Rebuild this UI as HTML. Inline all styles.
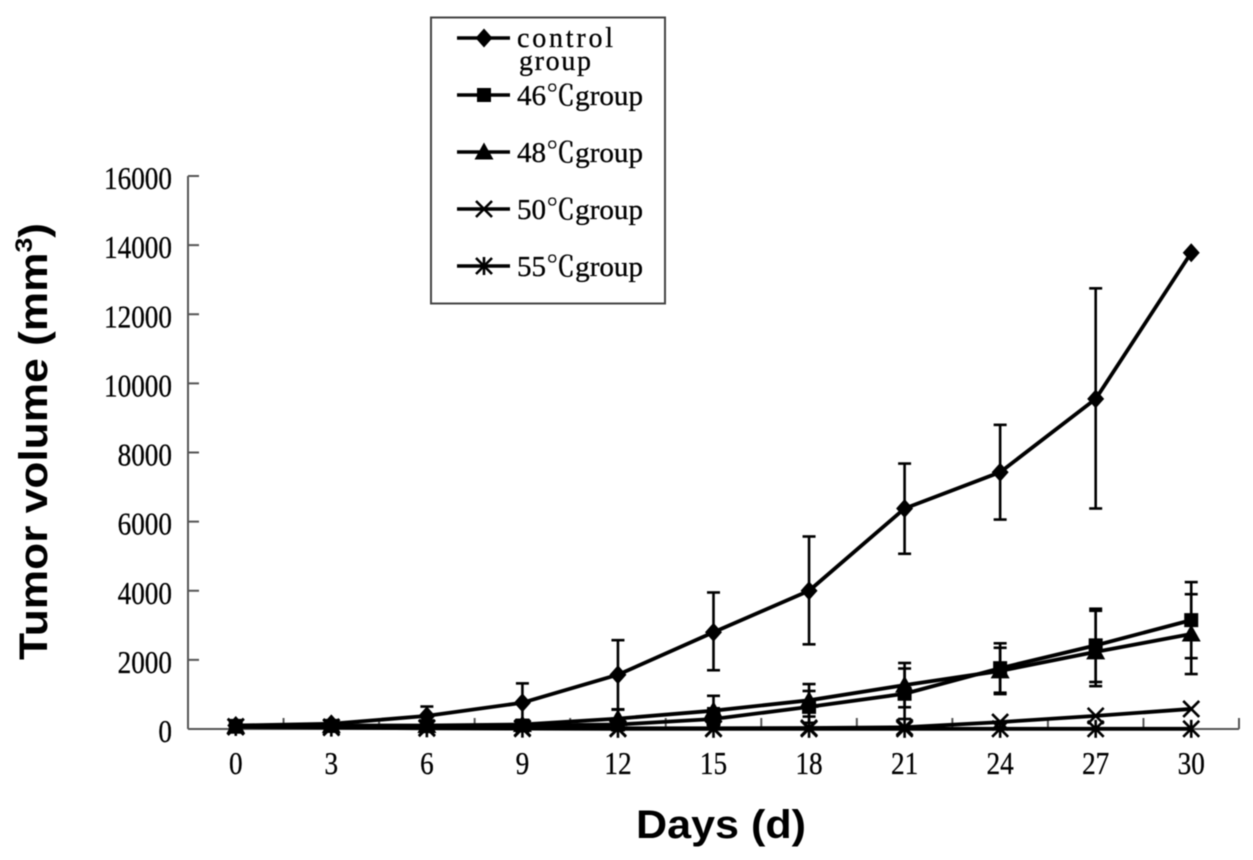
<!DOCTYPE html>
<html lang="en">
<head>
<meta charset="utf-8">
<title>Tumor volume chart</title>
<style>
html,body{margin:0;padding:0;background:#fff;}
svg{display:block;filter:blur(.5px);}
.tick{font-family:"Liberation Serif","Noto Serif CJK SC",serif;font-size:32px;fill:#000;stroke:#000;stroke-width:.3px;}
.legend{font-family:"Liberation Serif","Noto Serif CJK SC",serif;font-size:28px;fill:#000;stroke:#000;stroke-width:.3px;}
.title{font-family:"Liberation Sans",sans-serif;font-size:40px;font-weight:bold;fill:#000;}
</style>
</head>
<body>
<svg id="chart" xmlns="http://www.w3.org/2000/svg" width="1253" height="860" viewBox="0 0 1253 860">
<rect width="1253" height="860" fill="#fff"/>
<g id="axes"></g>
<g id="series"></g>
<text class="title" x="721" y="838" text-anchor="middle" textLength="170" lengthAdjust="spacingAndGlyphs">Days (d)</text>
<text class="title" transform="translate(47,660) rotate(-90)" textLength="437" lengthAdjust="spacingAndGlyphs">Tumor volume (mm<tspan font-size="24" dy="-15">3</tspan><tspan dy="15">)</tspan></text>
<g>
<rect x="431" y="17.5" width="234" height="286" fill="#fff" stroke="#444" stroke-width="2"/>
<text class="legend" x="517" y="47" textLength="96" lengthAdjust="spacing">control</text>
<text class="legend" x="519" y="70" textLength="72" lengthAdjust="spacing">group</text>
<text class="legend" x="517" y="105" textLength="126" lengthAdjust="spacingAndGlyphs">46℃group</text>
<text class="legend" x="517" y="162" textLength="126" lengthAdjust="spacingAndGlyphs">48℃group</text>
<text class="legend" x="517" y="219" textLength="126" lengthAdjust="spacingAndGlyphs">50℃group</text>
<text class="legend" x="517" y="276" textLength="126" lengthAdjust="spacingAndGlyphs">55℃group</text>
<g id="legend-keys"></g>
</g>
</svg>
<script>
const days = [0, 3, 6, 9, 12, 15, 18, 21, 24, 27, 30];
const yTicks = [0, 2000, 4000, 6000, 8000, 10000, 12000, 14000, 16000];

const controlValues = [100, 150, 380, 760, 1570, 2800, 4000, 6380, 7430, 9550, 13780];
const controlUpper = [null, null, 650, 1320, 2570, 3950, 5570, 7680, 8800, 12750, null];
const controlLower = [null, null, 110, 200, 570, 1700, 2450, 5070, 6060, 6380, null];

const group46Values = [90, 90, 80, 100, 130, 290, 640, 1020, 1760, 2420, 3150];
const group46Upper = [null, null, null, null, 300, 600, 1100, 1750, 2480, 3480, 4250];
const group46Lower = [null, null, null, null, null, 60, 180, 290, 1050, 1360, 2050];

const group48Values = [80, 100, 100, 130, 300, 530, 830, 1270, 1680, 2230, 2750];
const group48Upper = [null, null, null, null, 560, 960, 1300, 1910, 2350, 3420, 3900];
const group48Lower = [null, null, null, null, 40, 100, 360, 630, 1010, 1240, 1590];

const group50Values = [70, 60, 40, 30, 20, 20, 30, 50, 200, 380, 580];
const group55Values = [60, 40, 20, 10, 5, 5, 5, 5, 5, 5, 5];

const NS = 'http://www.w3.org/2000/svg';
const plotLeft = 188, plotRight = 1239, plotBase = 729, plotTop = 176, yMax = 16000;
const digitWidth = 13.6;
function xPos(i) { return plotLeft + (plotRight - plotLeft) * (i + 0.5) / days.length; }
function yPos(v) { return plotBase - (plotBase - plotTop) * v / yMax; }

function make(tag, attrs, parent) {
  const el = document.createElementNS(NS, tag);
  for (const k in attrs) el.setAttribute(k, attrs[k]);
  parent.appendChild(el);
  return el;
}

function drawMarker(kind, x, y, parent) {
  const g = make('g', {}, parent);
  
  
  if (kind === 'diamond') {
    make('polygon', { points: `${x},${y - 9.5} ${x + 8.5},${y} ${x},${y + 9.5} ${x - 8.5},${y}`, fill: '#000' }, g);
  } else if (kind === 'square') {
    make('rect', { x: x - 7, y: y - 7, width: 14, height: 14, fill: '#000' }, g);
  } else if (kind === 'triangle') {
    make('polygon', { points: `${x},${y - 9.5} ${x + 9.5},${y + 7.5} ${x - 9.5},${y + 7.5}`, fill: '#000' }, g);
  } else {
    const s = { stroke: '#000', 'stroke-width': 2.6 };
    make('line', { x1: x - 8, y1: y - 8, x2: x + 8, y2: y + 8, ...s }, g);
    make('line', { x1: x + 8, y1: y - 8, x2: x - 8, y2: y + 8, ...s }, g);
    if (kind === 'star') {
      make('line', { x1: x, y1: y - 9, x2: x, y2: y + 9, ...s }, g);
    }
  }
}

const axes = document.getElementById('axes');
const axisStyle = { stroke: '#555', 'stroke-width': 2 };

const yAxisLine = make('line', { x1: plotLeft, y1: plotTop, x2: plotLeft, y2: plotBase, ...axisStyle }, axes);


const xAxisLine = make('line', { x1: plotLeft, y1: plotBase, x2: plotRight, y2: plotBase, ...axisStyle }, axes);



yTicks.forEach(function (t) {
  const mark = make('line', { x1: plotLeft, y1: yPos(t), x2: plotLeft + 11, y2: yPos(t), ...axisStyle }, axes);
  
  
  const text = String(t);
  const label = make('text', { class: 'tick', x: 172, y: yPos(t) + 13, 'text-anchor': 'end', textLength: text.length * digitWidth, lengthAdjust: 'spacingAndGlyphs' }, axes);
  
  
  label.textContent = text;
});

days.forEach(function (d, i) {
  const tx = plotLeft + (plotRight - plotLeft) * (i + 1) / days.length;
  const mark = make('line', { x1: tx, y1: plotBase, x2: tx, y2: plotBase - 11, ...axisStyle }, axes);
  
  
  const text = String(d);
  const label = make('text', { class: 'tick', x: xPos(i), y: 774, 'text-anchor': 'middle', textLength: text.length * digitWidth, lengthAdjust: 'spacingAndGlyphs' }, axes);
  
  
  label.textContent = text;
});

const seriesLayer = document.getElementById('series');

function drawSeries(name, kind, values, upper, lower) {
  const g = make('g', {}, seriesLayer);
  
  
  values.forEach(function (v, i) {
    [upper && upper[i], lower && lower[i]].forEach(function (e) {
      if (e === null || e === undefined) return;
      const x = xPos(i);
      const bar = make('line', { x1: x, y1: yPos(v), x2: x, y2: yPos(e), stroke: '#000', 'stroke-width': 2.6 }, g);
      
      
      const cap = make('line', { x1: x - 6.5, y1: yPos(e), x2: x + 6.5, y2: yPos(e), stroke: '#000', 'stroke-width': 2.6 }, g);
      
      
    });
  });
  const pts = values.map(function (v, i) { return xPos(i) + ',' + yPos(v); }).join(' ');
  const line = make('polyline', { points: pts, fill: 'none', stroke: '#000', 'stroke-width': 3.8, 'stroke-linejoin': 'round' }, g);
  
  
  values.forEach(function (v, i) { drawMarker(kind, xPos(i), yPos(v), g); });
}

drawSeries('55c', 'star', group55Values);
drawSeries('50c', 'cross', group50Values);
drawSeries('48c', 'triangle', group48Values, group48Upper, group48Lower);
drawSeries('46c', 'square', group46Values, group46Upper, group46Lower);
drawSeries('control', 'diamond', controlValues, controlUpper, controlLower);

const legendKinds = ['diamond', 'square', 'triangle', 'cross', 'star'];
const legendRows = [38, 95, 152, 209, 266];
const legendKeys = document.getElementById('legend-keys');
legendKinds.forEach(function (kind, i) {
  const key = make('line', { x1: 457, y1: legendRows[i], x2: 510, y2: legendRows[i], stroke: '#000', 'stroke-width': 3.4 }, legendKeys);
  
  
  drawMarker(kind, 484, legendRows[i], legendKeys);
});
</script>
</body>
</html>
